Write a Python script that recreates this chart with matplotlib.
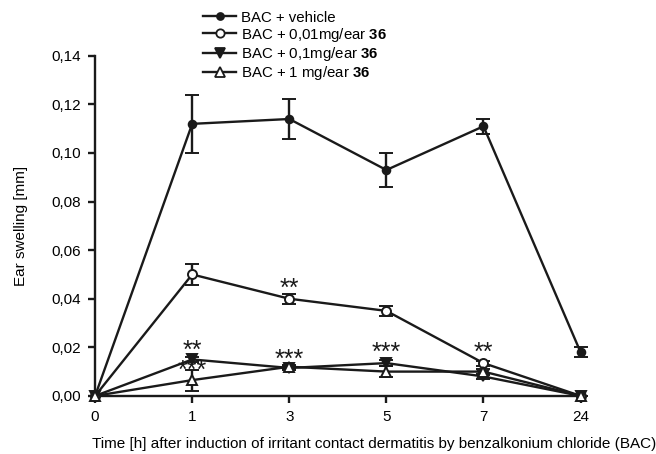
import numpy as np
import matplotlib
matplotlib.use('Agg')
import matplotlib.pyplot as plt
from matplotlib.lines import Line2D
from matplotlib.ticker import FuncFormatter

plt.rcParams['font.family'] = ['Liberation Sans', 'DejaVu Sans']
plt.rcParams['mathtext.fontset'] = 'custom'
plt.rcParams['mathtext.rm'] = 'Liberation Sans'
plt.rcParams['mathtext.bf'] = 'Liberation Sans:bold'

# data
TIMES = ['0', '1', '3', '5', '7', '24']
vehicle     = [0.0, 0.112, 0.114, 0.093, 0.111, 0.018]
vehicle_err = [0.0, 0.0118, 0.0082, 0.0068, 0.003, 0.002]
d001        = [0.0, 0.050, 0.040, 0.035, 0.0135, 0.0]
d001_err    = [0.0, 0.0045, 0.002, 0.0022, 0.001, 0.0]
d01         = [0.0, 0.015, 0.0115, 0.0135, 0.008, 0.0]
d01_err     = [0.0, 0.001, 0.0008, 0.0012, 0.001, 0.0]
d1          = [0.0, 0.0065, 0.012, 0.010, 0.010, 0.0]
d1_err      = [0.0, 0.0043, 0.0008, 0.0022, 0.0012, 0.0]

LABELS = ['BAC + vehicle', r'BAC + 0,01mg/ear $\mathbf{36}$',
          r'BAC + 0,1mg/ear $\mathbf{36}$', r'BAC + 1 mg/ear $\mathbf{36}$']

# significance stars: (x index, centre y, text)
STARS = [(1, 0.0210, '**'), (1, 0.0130, '***'), (2, 0.0466, '**'),
         (2, 0.0173, '***'), (3, 0.0203, '***'), (4, 0.0203, '**')]

fig = plt.figure(figsize=(6.56, 4.54), dpi=100)
ax = fig.add_axes([0.145, 0.128, 0.74, 0.749])
x = np.arange(len(TIMES))
K = '#1a1a1a'

series = [(vehicle, vehicle_err, 'o', K, 5.5),
          (d001, d001_err, 'o', 'white', 6.5),
          (d01, d01_err, 'v', K, 7.5),
          (d1, d1_err, '^', 'white', 7.5)]
handles = []
for (y, e, m, fc, ms), lbl in zip(series, LABELS):
    ax.errorbar(x, y, yerr=e, color=K, lw=1.7, marker=m, ms=ms,
                mfc=fc, mec=K, mew=1.4, capsize=5, capthick=1.7,
                elinewidth=1.7, clip_on=False, zorder=3)
    handles.append(Line2D([], [], color=K, lw=1.7, marker=m, ms=ms - 0.5,
                          mfc=fc, mec=K, mew=1.3))

for i, yc, t in STARS:
    ax.text(x[i], yc - 0.0054, t, ha='center', va='baseline', fontsize=18, color=K)

ax.set_xlim(0, 5)
ax.set_ylim(0, 0.14)
ax.set_xticks(x)
ax.set_xticklabels(TIMES)
ax.set_yticks(np.arange(0, 0.141, 0.02))
ax.yaxis.set_major_formatter(FuncFormatter(lambda v, p: f'{v:.2f}'.replace('.', ',')))
for s in ['top', 'right']:
    ax.spines[s].set_visible(False)
for s in ['left', 'bottom']:
    ax.spines[s].set_linewidth(1.7)
    ax.spines[s].set_color(K)
ax.tick_params(width=1.7, length=5, labelsize=11, color=K, pad=5)
ax.set_ylabel('Ear swelling [mm]', fontsize=11, labelpad=17)
ax.set_xlabel('Time [h] after induction of irritant contact dermatitis by benzalkonium chloride (BAC)',
              fontsize=11)
ax.xaxis.set_label_coords(0.575, -0.12)

fig.legend(handles=handles, labels=LABELS, loc='upper left',
           bbox_to_anchor=(0.297, 0.995), frameon=False, fontsize=10.8,
           handlelength=2.2, labelspacing=0.08, handletextpad=0.35,
           borderaxespad=0.15)

fig.savefig('out.png', dpi=100)
